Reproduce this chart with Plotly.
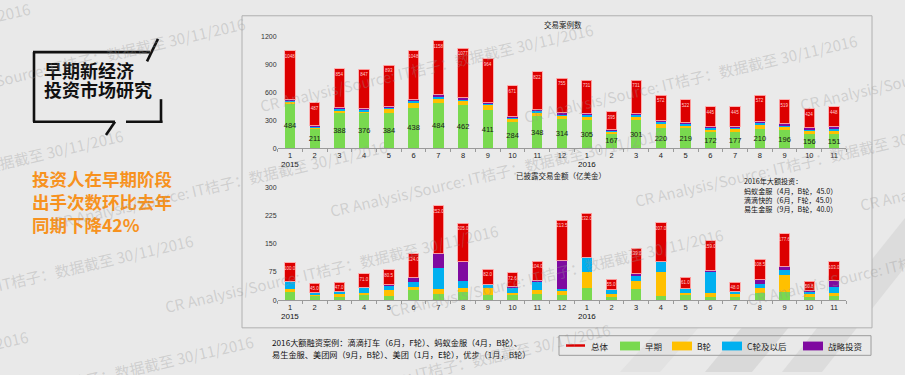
import plotly.graph_objects as go

# ---------------- data ----------------
periods = ["2015-01", "2015-02", "2015-03", "2015-04", "2015-05", "2015-06",
           "2015-07", "2015-08", "2015-09", "2015-10", "2015-11", "2015-12",
           "2016-01", "2016-02", "2016-03", "2016-04", "2016-05", "2016-06",
           "2016-07", "2016-08", "2016-09", "2016-10", "2016-11"]
month_labels = ["1", "2", "3", "4", "5", "6", "7", "8", "9", "10", "11", "12",
                "1", "2", "3", "4", "5", "6", "7", "8", "9", "10", "11"]
year_labels = ["2015", "2016"]
year_periods = ["2015-01", "2016-01"]

# 交易案例数 (deal counts)
count_total = [1048, 487, 854, 847, 893, 1048, 1158, 1077, 964, 671, 822, 755,
               731, 395, 731, 572, 522, 445, 445, 572, 519, 424, 448]
count_early = [484, 211, 388, 376, 384, 438, 484, 462, 411, 284, 348, 314,
               305, 167, 301, 220, 219, 172, 177, 210, 196, 156, 151]
count_b = [18, 18, 21, 28, 42, 60, 46, 46, 60, 39, 42, 46,
           42, 18, 46, 49, 32, 32, 35, 46, 39, 35, 42]
count_c = [18, 10, 18, 18, 21, 21, 35, 25, 10, 14, 18, 10,
           21, 7, 18, 21, 14, 21, 18, 21, 18, 18, 21]
count_strategic = [7, 5, 10, 7, 7, 7, 18, 10, 7, 7, 7, 14,
                   7, 7, 7, 7, 7, 7, 7, 14, 14, 10, 21]

# 已披露交易金额（亿美金） (disclosed amount)
amt_total = [100.0, 45.0, 47.0, 71.0, 80.5, 124.0, 252.0, 205.0, 82.0, 72.6, 104.0, 213.5,
             232.0, 55.0, 139.0, 207.0, 61.0, 159.0, 48.0, 108.5, 177.6, 50.8, 103.0]
amt_early = [22.0, 13.0, 10.5, 13.0, 12.0, 26.0, 17.5, 22.0, 13.0, 13.0, 17.5, 13.0,
             33.0, 10.5, 29.0, 11.4, 16.6, 8.0, 8.0, 18.0, 21.0, 7.0, 9.6]
amt_b = [7.0, 3.0, 5.0, 6.0, 14.0, 10.0, 13.0, 9.0, 18.0, 7.0, 10.5, 12.0,
         41.0, 4.5, 23.0, 64.6, 3.4, 12.0, 9.5, 14.0, 47.0, 8.0, 8.4]
amt_c = [21.0, 4.0, 8.0, 15.0, 13.0, 13.0, 55.0, 21.0, 11.0, 11.0, 22.0, 5.5,
         41.0, 12.0, 15.0, 26.0, 10.0, 58.0, 6.0, 12.0, 12.5, 7.8, 18.0]
amt_strategic = [0.0, 0.0, 0.0, 0.0, 2.0, 12.0, 39.0, 50.0, 0.0, 6.0, 2.5, 75.5,
                 0.0, 0.0, 3.0, 0.0, 0.0, 2.0, 0.0, 11.0, 9.5, 1.8, 15.6]

series_names = ["总体", "早期", "B轮", "C轮及以后", "战略投资"]
colors = {"总体": "#dc0000", "早期": "#79d94f", "B轮": "#ffc000",
          "C轮及以后": "#00b0f0", "战略投资": "#7f0aa0"}

W, H = 905, 375
FONT = "Liberation Sans, Arial, Noto Sans CJK SC, sans-serif"
CJK = "Noto Sans CJK SC, sans-serif"


def px(x):
    return x / W


def py(y):
    return 1 - y / H


fig = go.Figure()


def add_stack(xa, ya, early, b, c, s, total, early_text, total_fmt):
    rest = [t - e - bb - cc - ss for t, e, bb, cc, ss in zip(total, early, b, c, s)]
    fig.add_trace(go.Bar(
        x=periods, y=early, xaxis=xa, yaxis=ya, marker_color=colors["早期"],
        marker_line_width=0, name="早期", showlegend=False,
        text=[str(v) for v in early] if early_text else None,
        textposition="inside" if early_text else "none",
        insidetextanchor="middle", textangle=0, constraintext="none",
        textfont=dict(size=7.5, color="#1a1a1a", family=FONT)))
    for nm, vals in (("B轮", b), ("C轮及以后", c), ("战略投资", s)):
        fig.add_trace(go.Bar(
            x=periods, y=vals, xaxis=xa, yaxis=ya, marker_color=colors[nm],
            marker_line_width=0, name=nm, showlegend=False, textposition="none"))
    fig.add_trace(go.Bar(
        x=periods, y=rest, xaxis=xa, yaxis=ya, marker_color=colors["总体"],
        marker_line=dict(width=1, color="rgba(255,170,170,0.9)"),
        name="总体", showlegend=False,
        text=[total_fmt.format(v) for v in total], textposition="inside",
        insidetextanchor="end", textangle=0, constraintext="none",
        textfont=dict(size=4.5, color="#ffd0d0", family=FONT)))


add_stack("x", "y", count_early, count_b, count_c, count_strategic, count_total, True, "{:d}")
add_stack("x2", "y2", amt_early, amt_b, amt_c, amt_strategic, amt_total, False, "{:.1f}")

xdom = [px(277.6), px(846.4)]
axis_common = dict(type="category", tickmode="array", tickvals=periods, ticktext=month_labels,
                   tickson="boundaries", ticks="outside", ticklen=3, tickcolor="#9a9a9a",
                   showline=True, linecolor="#9a9a9a", linewidth=1, showgrid=False,
                   tickfont=dict(size=7.5, color="#222", family=FONT), domain=xdom,
                   fixedrange=True)
yaxis_common = dict(showgrid=False, zeroline=False, showline=False, ticks="",
                    tickfont=dict(size=7, color="#333", family=FONT), fixedrange=True)

fig.update_layout(
    width=W, height=H, margin=dict(l=0, r=0, t=0, b=0),
    paper_bgcolor="#e9e9e9", plot_bgcolor="rgba(0,0,0,0)",
    barmode="stack", bargap=0.58, showlegend=False,
    xaxis=dict(axis_common, anchor="y"),
    yaxis=dict(yaxis_common, domain=[py(147), py(33.3)], range=[0, 1200],
               tickvals=[0, 300, 600, 900, 1200], anchor="x"),
    xaxis2=dict(axis_common, anchor="y2"),
    yaxis2=dict(yaxis_common, domain=[py(301.7), py(187.3)], range=[0, 300],
                tickvals=[0, 75, 150, 225, 300], anchor="x2"),
)

shapes = []
# background stripes
for path, col in (("M 620,375 L 662,328 L 700,328 L 660,375 Z", "#e2e2e2"),
                  ("M 705,375 L 748,322 L 795,322 L 752,375 Z", "#d9d9d9"),
                  ("M 782,375 L 905,218 L 905,268 L 822,375 Z", "#dcdcdc")):
    shapes.append(dict(type="path", path=path, xref="paper", yref="paper",
                       fillcolor=col, line_width=0, layer="below"))
for sh in shapes:
    parts = sh["path"].split()
    out = []
    for p in parts:
        if "," in p:
            a, b2 = p.split(",")
            out.append(f"{px(float(a)):.5f},{py(float(b2)):.5f}")
        else:
            out.append(p)
    sh["path"] = " ".join(out)

# chart panel
shapes.append(dict(type="rect", xref="paper", yref="paper", x0=px(242), x1=px(872),
                   y0=py(330), y1=py(12), line=dict(color="#b0b0b0", width=1),
                   fillcolor="#eaeaea", layer="below"))


def line(x0, y0, x1, y1, color="#111", width=2.6):
    shapes.append(dict(type="line", xref="paper", yref="paper", x0=px(x0), y0=py(y0),
                       x1=px(x1), y1=py(y1), line=dict(color=color, width=width)))


# title frame (speech-bubble style)
line(34, 49, 34, 120)
line(33, 49, 150, 49)
line(147, 58.5, 158, 35.5)
line(161, 97, 161, 121)
line(33, 120, 115, 120)
line(115, 120, 106, 133.5)
line(126, 120, 162.5, 120)

# legend box
shapes.append(dict(type="rect", xref="paper", yref="paper", x0=px(559), x1=px(871),
                   y0=py(358), y1=py(338), line=dict(color="#9c9c9c", width=1),
                   fillcolor="rgba(0,0,0,0)"))
line(566, 348, 585, 348, color=colors["总体"], width=2.5)
legend_items = [("早期", 620), ("B轮", 672), ("C轮及以后", 722), ("战略投资", 803)]
for nm, x0 in legend_items:
    shapes.append(dict(type="rect", xref="paper", yref="paper", x0=px(x0), x1=px(x0 + 20),
                       y0=py(353), y1=py(344), line_width=0, fillcolor=colors[nm]))

ann = []


def text(x, y, s, size, color="#222", anchor="left", family=CJK, bold=False):
    ann.append(dict(x=px(x), y=py(y), xref="paper", yref="paper", text=f"<b>{s}</b>" if bold else s,
                    showarrow=False, xanchor=anchor, yanchor="middle",
                    font=dict(size=size, color=color, family=family)))


# legend texts
text(589, 348.5, series_names[0], 8.5)
for nm, x0 in legend_items:
    text(x0 + 23, 348.5, nm, 8.5)

# chart titles
text(563, 20.5, "交易案例数", 7.5, anchor="center")
text(561, 175, "已披露交易金额（亿美金）", 7.5, anchor="center")

# year labels
for yl, pp in zip(year_labels, year_periods):
    ann.append(dict(x=pp, xref="x", y=py(164), yref="paper", text=yl, showarrow=False,
                    xanchor="center", yanchor="middle",
                    font=dict(size=8, color="#111", family=FONT)))
    ann.append(dict(x=pp, xref="x2", y=py(318), yref="paper", text=yl, showarrow=False,
                    xanchor="center", yanchor="middle",
                    font=dict(size=8, color="#111", family=FONT)))

# big deals note inside amount chart
note_lines = ["2016年大额投资：", "蚂蚁金服（4月，B轮，45.0）",
              "滴滴快的（6月，F轮，45.0）", "易生金服（9月，B轮，40.0）"]
for i, s in enumerate(note_lines):
    text(742, 180.5 + 9.6 * i, s, 7.1, color="#111")

# footnote
text(270, 344, "2016大额融资案例：滴滴打车（6月，F轮）、蚂蚁金服（4月，B轮）、", 8.2, color="#111")
text(270, 357, "易生金服、美团网（9月，B轮）、美团（1月，E轮），优步（1月，B轮）", 8.2, color="#111")

# left headline
text(42, 67.5, "早期新经济", 18, color="#111", bold=True)
text(42, 86.5, "投资市场研究", 18, color="#111", bold=True)
orange = "#f7921e"
text(30, 177.5, "投资人在早期阶段", 17.5, color=orange, bold=True)
text(30, 201.5, "出手次数环比去年", 17.5, color=orange, bold=True)
text(30, 225, "同期下降42%", 17.5, color=orange, bold=True)

# watermark tiling
wm = "CR Analysis/Source: IT桔子：数据截至 30/11/2016"
rows = [(-60, 150), (5, -105), (91, 243), (163, 507), (214, 313), (274, 618), (330, 373), (400, 730)]
period = 470
slope = -0.23
half = 188
for y313, start in rows:
    s0 = start
    while s0 > -500:
        s0 -= period
    while s0 < W + 50:
        cx = s0 + 0.974 * half
        cy = y313 + slope * (cx - 313)
        if -40 < cy < H + 40 and -250 < cx < W + 250:
            ann.append(dict(x=px(cx), y=py(cy), xref="paper", yref="paper", text=wm,
                            showarrow=False, xanchor="center", yanchor="middle",
                            textangle=-13,
                            font=dict(size=15, color="rgba(150,150,150,0.33)", family=CJK)))
        s0 += period

fig.update_layout(shapes=shapes, annotations=ann)
fig.write_html("out.html", config={"displayModeBar": False},
               post_script="document.body.style.margin='0px';document.body.style.overflow='hidden';")
